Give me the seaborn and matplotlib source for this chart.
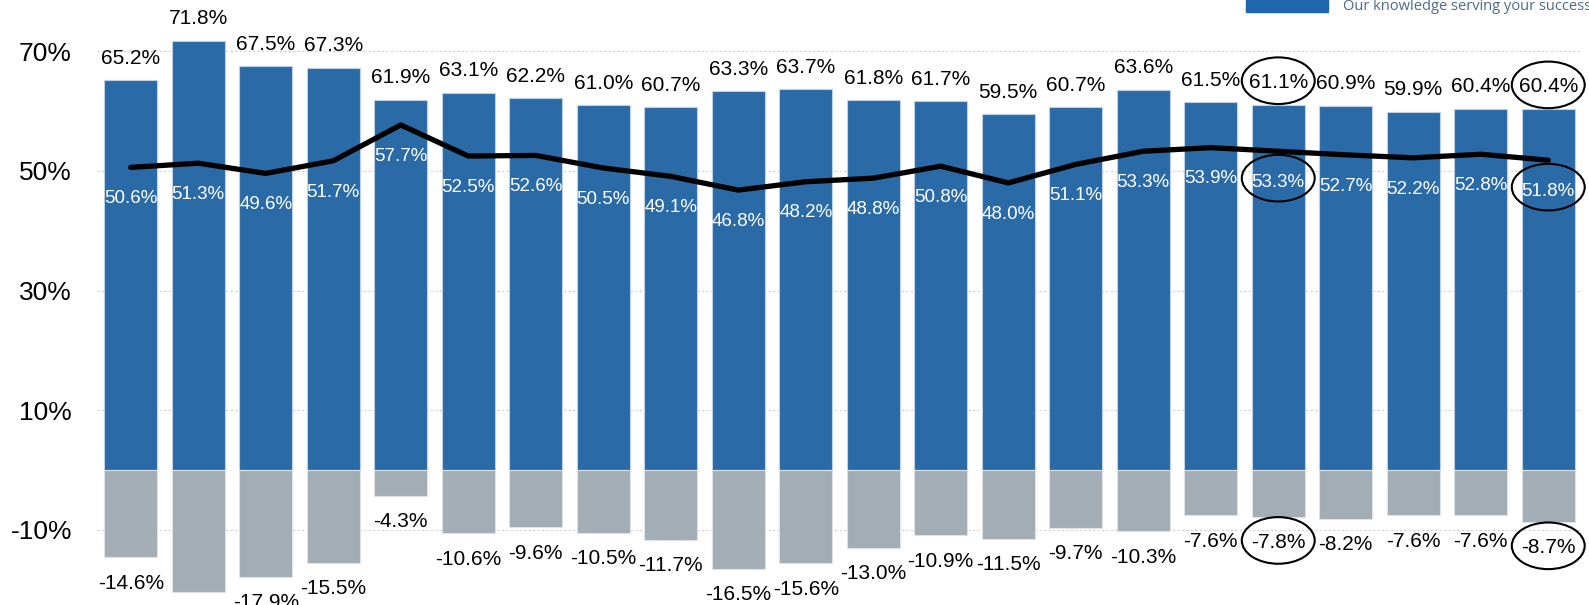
import numpy as np
import pandas as pd
import matplotlib
matplotlib.use("Agg")
import matplotlib.pyplot as plt
from matplotlib.patches import Ellipse, Rectangle
import seaborn as sns

# Chart data
periods = [str(i) for i in range(1, 23)]
bar_top = [65.2, 71.8, 67.5, 67.3, 61.9, 63.1, 62.2, 61.0, 60.7, 63.3, 63.7,
           61.8, 61.7, 59.5, 60.7, 63.6, 61.5, 61.1, 60.9, 59.9, 60.4, 60.4]
line_vals = [50.6, 51.3, 49.6, 51.7, 57.7, 52.5, 52.6, 50.5, 49.1, 46.8, 48.2,
             48.8, 50.8, 48.0, 51.1, 53.3, 53.9, 53.3, 52.7, 52.2, 52.8, 51.8]
bar_neg = [-14.6, -20.5, -17.9, -15.5, -4.3, -10.6, -9.6, -10.5, -11.7, -16.5, -15.6,
           -13.0, -10.9, -11.5, -9.7, -10.3, -7.6, -7.8, -8.2, -7.6, -7.6, -8.7]
highlighted = [17, 21]
y_ticks = [-10, 10, 30, 50, 70]

BLUE = "#2a6aa7"
GREY = "#a3adb6"

df = pd.DataFrame({"period": periods, "top": bar_top, "line": line_vals, "neg": bar_neg})

sns.set_style("white")
plt.rcParams["font.family"] = ["Liberation Sans", "DejaVu Sans"]
plt.rcParams["text.color"] = "black"
plt.rcParams["ytick.color"] = "black"

fig = plt.figure(figsize=(15.89, 6.05), dpi=100)
ax = fig.add_axes([97 / 1589, 0, 1485 / 1589, 1])

ax.set_axisbelow(True)
ax.yaxis.grid(True, color="#cfcfcf", linestyle=(0, (2, 2)), linewidth=0.8)

sns.barplot(data=df, x="period", y="top", color=BLUE, saturation=1, width=0.79,
            edgecolor="#bcd0e6", linewidth=0.8, ax=ax)
sns.barplot(data=df, x="period", y="neg", color=GREY, saturation=1, width=0.79,
            edgecolor="#dde2e7", linewidth=0.8, ax=ax)

xs = np.arange(len(periods))
sns.lineplot(x=xs, y=df["line"], color="black", linewidth=3.8, ax=ax,
             solid_capstyle="round", solid_joinstyle="round")

# value labels
for i in xs:
    ax.annotate(f"{bar_top[i]:.1f}%", (i, bar_top[i]), xytext=(0, 15.8),
                textcoords="offset points", ha="center", va="center", fontsize=15)
    ax.annotate(f"{line_vals[i]:.1f}%", (i, line_vals[i]), xytext=(0, -22.5),
                textcoords="offset points", ha="center", va="center", fontsize=13.5,
                color="white")
    ax.annotate(f"{bar_neg[i]:.1f}%", (i, bar_neg[i]), xytext=(0, -18.7),
                textcoords="offset points", ha="center", va="center", fontsize=15,
                annotation_clip=False)

# circled labels
for i in highlighted:
    for yc in (bar_top[i] + 4.0, line_vals[i] - 4.5, bar_neg[i] - 4.0):
        ax.add_patch(Ellipse((i, yc), 1.08, 7.8, fill=False, edgecolor="black",
                             linewidth=1.5, clip_on=False))

ax.set_xlim(-0.5, 21.5)
ax.set_ylim(-22.6, 78.6)
ax.set_yticks(y_ticks)
ax.set_yticklabels([f"{t}%" for t in y_ticks], fontsize=19)
ax.tick_params(axis="y", length=0, pad=18)
ax.set_xticks([])
ax.set_xlabel("")
ax.set_ylabel("")
sns.despine(ax=ax, left=True, bottom=True)

# logo strip at top right
fig.patches.append(Rectangle((1246 / 1589, 1 - 12 / 605), 82 / 1589, 12 / 605,
                             transform=fig.transFigure, color="#1f66ad"))
fig.text(1343 / 1589, 1 - 6 / 605, "Our knowledge serving your success",
         fontsize=10.5, color="#4c6a8c", family=["Open Sans", "DejaVu Sans"],
         va="center", ha="left")

fig.savefig("out.png", dpi=100)
